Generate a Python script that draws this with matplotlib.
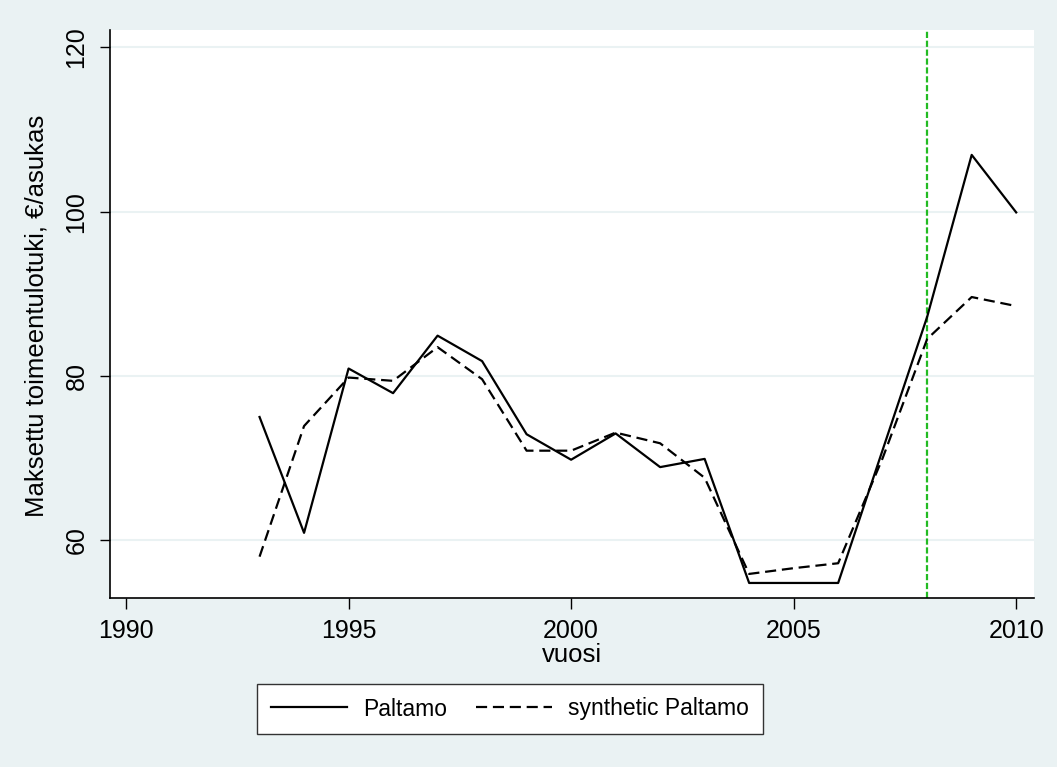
import numpy as np
import matplotlib
matplotlib.use('Agg')
import matplotlib.pyplot as plt

plt.rcParams['font.family'] = ['Liberation Sans', 'DejaVu Sans']

# welfare payments per inhabitant, Paltamo vs. its synthetic control
vuosi = [1993, 1994, 1995, 1996, 1997, 1998, 1999, 2000, 2001, 2002,
         2003, 2004, 2005, 2006, 2007, 2008, 2009, 2010]
paltamo = [75.0, 60.9, 80.9, 77.9, 84.9, 81.8, 72.9, 69.8, 73.0, 68.9,
           69.9, 54.8, 54.8, 54.8, 71.0, 87.2, 106.9, 99.9]
synthetic = [58.0, 73.9, 79.8, 79.4, 83.5, 79.6, 70.9, 70.9, 73.1, 71.8,
             67.6, 55.9, 56.6, 57.2, 70.0, 84.5, 89.6, 88.5]
x_ticks = [1990, 1995, 2000, 2005, 2010]
y_ticks = [60, 80, 100, 120]
treatment_year = 2008

bg = '#EAF2F3'
fs = 18
fs_title = 18.5
fs_leg = 16.5

fig = plt.figure(figsize=(10.57, 7.67), dpi=100, facecolor=bg)
ax = fig.add_axes([110 / 1057, 1 - 598 / 767, 924 / 1057, 568 / 767])
ax.set_facecolor('white')

for y in y_ticks:
    ax.axhline(y, color=bg, linewidth=1.5, zorder=0)

ax.plot(vuosi, paltamo, color='black', linewidth=1.6, label='Paltamo', zorder=3)
ax.plot(vuosi, synthetic, color='black', linewidth=1.6,
        linestyle=(0, (5.0, 2.6)), label='synthetic Paltamo', zorder=3)
ax.axvline(treatment_year, color='#22BB22', linewidth=1.6,
           linestyle=(0, (2.8, 1.2)), zorder=2)

ax.set_xlim(1989.64, 2010.40)
ax.set_ylim(52.97, 122.1)
ax.set_xticks(x_ticks)
ax.set_yticks(y_ticks)
ax.set_xticklabels([str(t) for t in x_ticks], fontsize=fs)
ax.set_yticklabels([str(t) for t in y_ticks], fontsize=fs, rotation=90, va='center')
ax.tick_params(axis='x', length=8, width=1, pad=7, color='black')
ax.tick_params(axis='y', length=7.5, width=1, pad=8, color='black')

for side in ['top', 'right']:
    ax.spines[side].set_visible(False)
for side in ['left', 'bottom']:
    ax.spines[side].set_linewidth(1.2)
    ax.spines[side].set_color('black')

fig.text(37 / 1057, 1 - 316 / 767, 'Maksettu toimeentulotuki, €/asukas',
         rotation=90, ha='center', va='center', fontsize=fs_title)
fig.text(572 / 1057, 1 - 655 / 767, 'vuosi', ha='center', va='center', fontsize=fs_title)

leg = fig.legend(loc='center', bbox_to_anchor=(510 / 1057, 1 - 709 / 767),
                 ncol=2, fontsize=fs_leg, frameon=True, fancybox=False,
                 handlelength=3.3, handletextpad=0.7, columnspacing=1.3,
                 borderpad=0.6, borderaxespad=0)
leg.get_frame().set_edgecolor('#333333')
leg.get_frame().set_linewidth(1.0)
leg.get_frame().set_facecolor('white')
leg.get_frame().set_alpha(1)

fig.savefig('out.png', dpi=100, facecolor=bg)
